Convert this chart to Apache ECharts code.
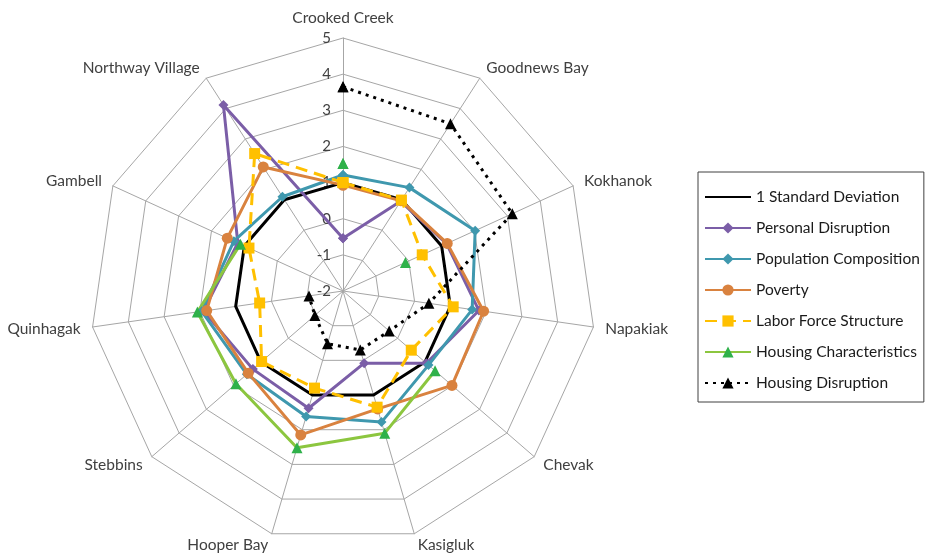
<!DOCTYPE html>
<html>
<head>
<meta charset="utf-8">
<script src="https://cdn.jsdelivr.net/npm/echarts@6/dist/echarts.min.js"></script>
<style>html,body{margin:0;padding:0;background:#fff}#c{width:926px;height:557px}</style>
</head>
<body>
<div id="c"></div>
<script>
const categories = ['Crooked Creek','Goodnews Bay','Kokhanok','Napakiak','Chevak','Kasigluk','Hooper Bay','Stebbins','Quinhagak','Gambell','Northway Village'];
const standardDeviation = [1,1,1,1,1,1,1,1,1,1,1];
const personalDisruption = [-0.54,0.95,1.15,1.8,1.05,0.08,1.38,1.3,1.9,1.2,4.12];
const populationComposition = [1.21,1.4,2.02,1.61,1.13,1.78,1.62,1.52,1.95,1.32,1.1];
const poverty = [0.93,0.97,1.17,1.93,1.99,1.4,2.15,1.47,1.81,1.52,2.08];
const laborForce = [1.0,0.99,0.41,1.08,0.5,1.35,0.8,0.98,0.33,0.86,2.52];
const housingCharacteristics = [1.53,null,-0.1,null,1.37,2.1,2.52,1.92,2.07,1.12,null];
const housingDisruption = [3.65,3.5,3.15,0.4,-0.31,-0.3,-0.48,-0.97,-1.05,null,null];
const seriesNames = ['1 Standard Deviation','Personal Disruption','Population Composition','Poverty','Labor Force Structure','Housing Characteristics','Housing Disruption'];
const axisMin = -2, axisMax = 5;

const FONT = 'Lato';
const C = [343, 291], R = 253;

function toPolar(values) {
  const pts = values.map((v, i) => [v == null ? '-' : v, i]);
  pts.push([values[0] == null ? '-' : values[0], values.length]);
  return pts;
}

// radar lays out indicators counter-clockwise; reorder so names go clockwise
const radarOrder = [categories[0]].concat(categories.slice(1).reverse());

function mk(name, values, color, opts) {
  return Object.assign({
    name: name,
    type: 'line',
    coordinateSystem: 'polar',
    data: toPolar(values),
    connectNulls: false,
    smooth: false,
    lineStyle: { color: color, width: 3 },
    itemStyle: { color: color },
    symbolSize: 9,
    animation: false
  }, opts || {});
}

const chart = echarts.init(document.getElementById('c'), null, { renderer: 'canvas' });
chart.setOption({
  backgroundColor: '#ffffff',
  animation: false,
  radar: {
    center: C,
    radius: R,
    startAngle: 90,
    shape: 'polygon',
    splitNumber: axisMax - axisMin,
    indicator: radarOrder.map(n => ({ name: n, min: axisMin, max: axisMax })),
    axisName: { color: '#404040', fontSize: 15.5, fontFamily: FONT },
    nameGap: 12,
    axisLine: { lineStyle: { color: '#a6a6a6', width: 1 } },
    splitLine: { lineStyle: { color: '#a6a6a6', width: 1 } },
    splitArea: { show: false },
    axisTick: { show: false },
    axisLabel: { show: false }
  },
  polar: { center: C, radius: R },
  angleAxis: {
    type: 'value', min: 0, max: categories.length, startAngle: 90, clockwise: true,
    axisLine: { show: false }, axisTick: { show: false }, axisLabel: { show: false }, splitLine: { show: false }
  },
  radiusAxis: {
    type: 'value', min: axisMin, max: axisMax, interval: 1,
    axisLine: { show: false }, axisTick: { show: false }, splitLine: { show: false },
    axisLabel: { show: true, color: '#404040', fontSize: 15, fontFamily: FONT, margin: 12 },
    z: 1
  },
  legend: {
    orient: 'vertical',
    left: 698,
    top: 172,
    itemWidth: 46,
    itemHeight: 14,
    itemGap: 15,
    padding: [17, 4, 11, 6],
    borderColor: '#404040',
    borderWidth: 1,
    textStyle: { fontFamily: FONT, fontSize: 15.5, color: '#1a1a1a' },
    data: seriesNames.map((n, i) => i === 0 ? { name: n, itemStyle: { opacity: 0 } } : n)
  },
  series: [
    mk(seriesNames[0], standardDeviation, '#000000', { symbol: 'none' }),
    mk(seriesNames[1], personalDisruption, '#7b5ea7', { symbol: 'diamond', symbolSize: 10 }),
    mk(seriesNames[2], populationComposition, '#3f98ae', { symbol: 'diamond', symbolSize: 10 }),
    mk(seriesNames[3], poverty, '#d9823f', { symbol: 'circle', symbolSize: 11 }),
    mk(seriesNames[4], laborForce, '#ffc000', { symbol: 'rect', symbolSize: 11, lineStyle: { color: '#ffc000', width: 3, type: [12, 7] } }),
    mk(seriesNames[5], housingCharacteristics, '#8cc63f', { symbol: 'triangle', symbolSize: 11, itemStyle: { color: '#2fb14a' } }),
    mk(seriesNames[6], housingDisruption, '#000000', { symbol: 'triangle', symbolSize: 11, lineStyle: { color: '#000000', width: 3, type: [3, 5] } })
  ]
});
</script>
</body>
</html>
